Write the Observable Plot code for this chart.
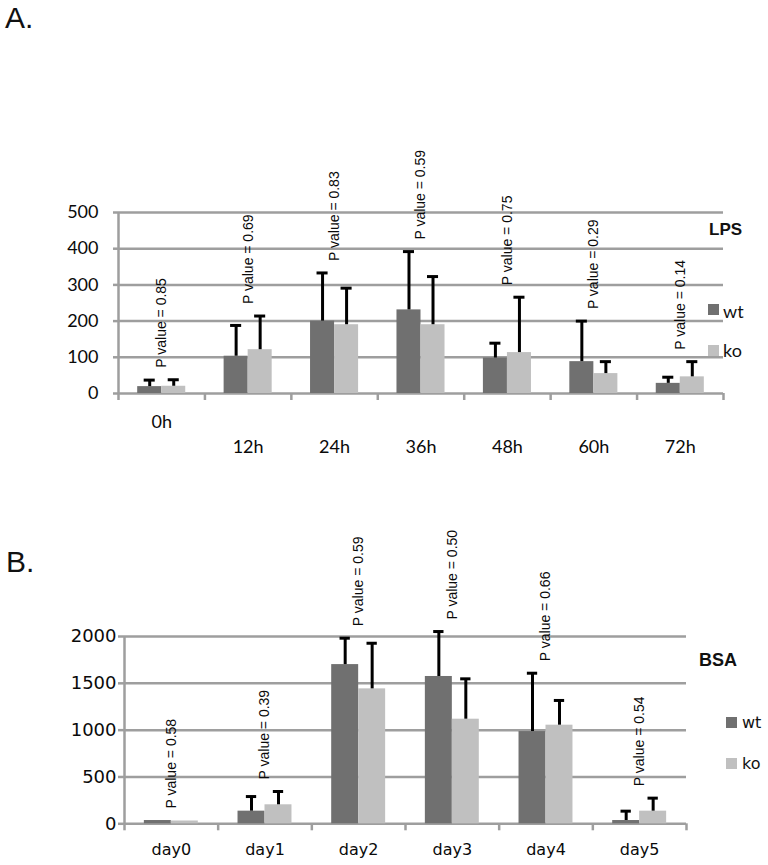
<!DOCTYPE html>
<html><head><meta charset="utf-8">
<script src="https://cdn.jsdelivr.net/npm/d3@7"></script>
<script src="https://cdn.jsdelivr.net/npm/@observablehq/plot@0.6"></script>
<style>
body{margin:0;background:#fff;}
#page{position:relative;width:768px;height:865px;overflow:hidden;background:#fff;}
.abs{position:absolute;white-space:nowrap;color:#111;}
.sw{position:absolute;}
</style></head><body><div id="page"></div>
<script>
// ---- Panel A (LPS) ----
const lpsCategories = ["0h", "12h", "24h", "36h", "48h", "60h", "72h"];
const lpsWt    = [19, 103, 200, 231, 98, 88, 28];
const lpsWtErr = [18, 85, 133, 161, 41, 112, 17];
const lpsKo    = [20, 121, 190, 190, 113, 55, 46];
const lpsKoErr = [18, 93, 101, 133, 153, 33, 42];
const lpsP     = ["0.85", "0.69", "0.83", "0.59", "0.75", "0.29", "0.14"];
const lpsYTicks = [0, 100, 200, 300, 400, 500];

// ---- Panel B (BSA) ----
const bsaCategories = ["day0", "day1", "day2", "day3", "day4", "day5"];
const bsaWt    = [35, 135, 1700, 1573, 985, 35];
const bsaWtErr = [0, 156, 282, 480, 623, 100];
const bsaKo    = [30, 203, 1441, 1117, 1053, 135];
const bsaKoErr = [0, 142, 487, 431, 264, 139];
const bsaP     = ["0.58", "0.39", "0.59", "0.50", "0.66", "0.54"];
const bsaYTicks = [0, 500, 1000, 1500, 2000];

const seriesNames = ["wt", "ko"];
const seriesColors = ["#707070", "#c0c0c0"];
const gridColor = "#9e9e9e";
const textColor = "#0a0a0a";

function buildRows(cats, wt, wtErr, ko, koErr, bw) {
  return cats.flatMap((c, i) => [
    {cat: c, i, series: "wt", value: wt[i], err: wtErr[i], x1: i + 0.5 - bw, x2: i + 0.5},
    {cat: c, i, series: "ko", value: ko[i], err: koErr[i], x1: i + 0.5, x2: i + 0.5 + bw}
  ]);
}

function makeChart(cfg) {
  const n = cfg.categories.length;
  const rows = buildRows(cfg.categories, cfg.wt, cfg.wtErr, cfg.ko, cfg.koErr, cfg.barFrac);
  const errRows = rows.filter(d => d.err > 0);
  const pRows = cfg.categories.map((c, i) => ({
    i, p: cfg.p[i],
    top: Math.max(cfg.wt[i] + cfg.wtErr[i], cfg.ko[i] + cfg.koErr[i])
  }));
  const cx = d => (d.x1 + d.x2) / 2;
  const labelAxes = cfg.labelPads.map(([idx, pad]) => Plot.axisX({
    ticks: idx.map(i => i + 0.5), tickSize: 0, tickPadding: pad,
    tickFormat: d => cfg.categories[Math.floor(d)],
    fontSize: cfg.xFontSize, fill: textColor
  }));
  return Plot.plot({
    width: 768, height: cfg.height,
    marginTop: cfg.mt, marginBottom: cfg.mb, marginLeft: cfg.ml, marginRight: cfg.mr,
    style: {fontFamily: cfg.font, fontSize: cfg.yFontSize + "px", color: textColor, background: "transparent", overflow: "visible"},
    x: {type: "linear", domain: [0, n], axis: null},
    y: {domain: [0, cfg.yMax], axis: null},
    color: {domain: seriesNames, range: seriesColors},
    marks: [
      Plot.ruleY(cfg.yTicks, {x1: 0, x2: n, stroke: gridColor, strokeWidth: 2.5}),
      Plot.axisY({ticks: cfg.yTicks, tickFormat: d => String(d), tickSize: cfg.yTickSize, tickPadding: cfg.yTickPad, stroke: gridColor, strokeWidth: 2.5, fill: textColor, fontSize: cfg.yFontSize}),
      Plot.ruleX([0], {y1: 0, y2: cfg.yMax, stroke: gridColor, strokeWidth: 2.5}),
      Plot.axisX({ticks: d3.range(n + 1), tickSize: 7, tickFormat: () => "", stroke: gridColor, strokeWidth: 2.5}),
      ...labelAxes,
      Plot.rect(rows, {x1: "x1", x2: "x2", y1: 0, y2: "value", fill: "series"}),
      Plot.ruleX(errRows, {x: cx, y1: "value", y2: d => d.value + d.err, stroke: "#000", strokeWidth: 3}),
      Plot.ruleY(errRows, {y: d => d.value + d.err, x1: d => cx(d) - cfg.capHalf, x2: d => cx(d) + cfg.capHalf, stroke: "#000", strokeWidth: 3}),
      Plot.text(pRows, {x: d => d.i + 0.5, y: "top", text: d => "P value = " + d.p, rotate: -90, textAnchor: "start", dy: -12, fontSize: 14, fontFamily: "Liberation Sans, Arial, sans-serif", fill: textColor})
    ]
  });
}

const page = document.getElementById("page");
function place(el, top) { el.style.position = "absolute"; el.style.left = "0px"; el.style.top = top + "px"; page.appendChild(el); }
function addText(txt, left, top, css) { const d = document.createElement("div"); d.className = "abs"; d.textContent = txt; d.style.left = left + "px"; d.style.top = top + "px"; Object.assign(d.style, css); page.appendChild(d); }
function addSwatch(color, left, top, size) { const d = document.createElement("div"); d.className = "sw"; d.style.left = left + "px"; d.style.top = top + "px"; d.style.width = size + "px"; d.style.height = size + "px"; d.style.background = color; page.appendChild(d); }

const chartA = makeChart({
  categories: lpsCategories, wt: lpsWt, wtErr: lpsWtErr, ko: lpsKo, koErr: lpsKoErr, p: lpsP,
  yTicks: lpsYTicks, yMax: 500, height: 470, mt: 212, mb: 77, ml: 118, mr: 45,
  barFrac: 0.278, capHalf: 0.064, font: "Lato, sans-serif", yFontSize: 18, xFontSize: 18,
  yTickSize: 5, yTickPad: 15,
  labelPads: [[[0], 22], [[1, 2, 3, 4, 5, 6], 47]]
});
place(chartA, 0);

const chartB = makeChart({
  categories: bsaCategories, wt: bsaWt, wtErr: bsaWtErr, ko: bsaKo, koErr: bsaKoErr, p: bsaP,
  yTicks: bsaYTicks, yMax: 2000, height: 395, mt: 166, mb: 41.7, ml: 124, mr: 82,
  barFrac: 0.288, capHalf: 0.055, font: "DejaVu Sans, sans-serif", yFontSize: 18, xFontSize: 16,
  yTickSize: 6, yTickPad: 2,
  labelPads: [[[0, 1, 2, 3, 4, 5], 20]]
});
place(chartB, 470);

// Panel letters
addText("A.", 5, 3, {font: "30px/30px 'Liberation Sans', Arial, sans-serif"});
addText("B.", 6, 547, {font: "30px/30px 'Liberation Sans', Arial, sans-serif"});

// Panel A title + legend
addText("LPS", 709, 221, {font: "bold 17px/17px 'Liberation Sans', Arial, sans-serif"});
addSwatch(seriesColors[0], 708, 304, 11);
addSwatch(seriesColors[1], 708, 345, 11);
addText(seriesNames[0], 723, 302, {font: "18px/18px Lato, sans-serif"});
addText(seriesNames[1], 723, 341, {font: "18px/18px Lato, sans-serif"});

// Panel B title + legend
addText("BSA", 699, 651, {font: "bold 18px/18px 'Liberation Sans', Arial, sans-serif"});
addSwatch(seriesColors[0], 726, 717, 11);
addSwatch(seriesColors[1], 726, 758, 11);
addText(seriesNames[0], 742, 715, {font: "16px/16px 'DejaVu Sans', sans-serif"});
addText(seriesNames[1], 742, 756, {font: "16px/16px 'DejaVu Sans', sans-serif"});
</script></body></html>
